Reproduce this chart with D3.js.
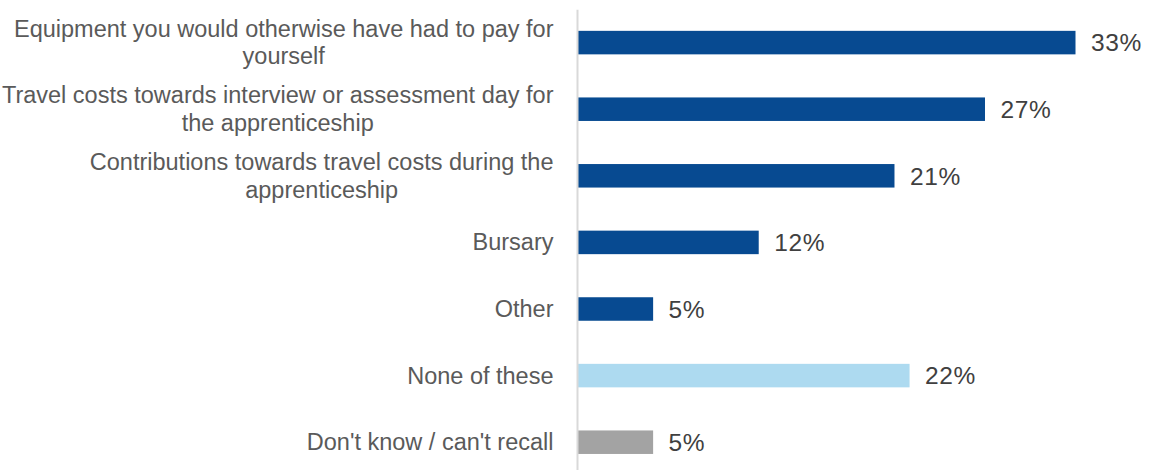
<!DOCTYPE html>
<html>
<head>
<meta charset="utf-8">
<script src="https://cdn.jsdelivr.net/npm/d3@7"></script>
<style>
  html, body { margin: 0; padding: 0; background: #ffffff; }
  svg { display: block; }
  text { font-family: "Liberation Sans", Arial, sans-serif; }
</style>
</head>
<body>
<div id="chart"></div>
<script>
// Support received during the apprenticeship (% of respondents)
const categories = [
  "Equipment you would otherwise have had to pay for\nyourself",
  "Travel costs towards interview or assessment day for\nthe apprenticeship",
  "Contributions towards travel costs during the\napprenticeship",
  "Bursary",
  "Other",
  "None of these",
  "Don't know / can't recall"
];
const values = [33, 27, 21, 12, 5, 22, 5];
const barGroups = ["support", "support", "support", "support", "support", "none", "unknown"];
const groupColors = { support: "#074A91", none: "#ADDAF0", unknown: "#A3A3A3" };

const width = 1149, height = 470;
const axisX = 577.7;

const svg = d3.select("#chart").append("svg")
  .attr("width", width)
  .attr("height", height);

const rows = categories.map((c, i) => ({ label: c, value: values[i], group: barGroups[i] }));

const x = d3.scaleLinear()
  .domain([0, 33])
  .range([axisX, 1075.5]);

const y = d3.scaleBand()
  .domain(rows.map(d => d.label))
  .range([9.3, 475.5])
  .paddingInner(0.647)
  .paddingOuter(0.3235);

// Bars
svg.append("g")
  .selectAll("rect")
  .data(rows)
  .join("rect")
  .attr("x", x(0))
  .attr("y", d => y(d.label))
  .attr("width", d => x(d.value) - x(0))
  .attr("height", y.bandwidth())
  .attr("fill", d => groupColors[d.group]);

// Category axis: a plain vertical rule, no ticks
const axis = svg.append("g")
  .attr("transform", `translate(${axisX - 0.7},0)`)
  .call(d3.axisLeft(y).tickSize(0).tickSizeOuter(0).tickFormat(""));
axis.select(".domain")
  .attr("stroke", "#D9D9D9")
  .attr("stroke-width", 2);
axis.selectAll(".tick").remove();

// Category labels: lines centred on each other, block right-aligned
const labelRight = 553.5;
const lineGap = 27.5;
const labelG = svg.append("g")
  .attr("font-size", 23.5)
  .attr("fill", "#5A5A5A");

rows.forEach(d => {
  const lines = d.label.split("\n");
  const cy = y(d.label) + y.bandwidth() / 2;
  const t = labelG.append("text").attr("text-anchor", "middle");
  const spans = lines.map((ln, k) => t.append("tspan")
    .attr("y", cy - (lines.length - 1) * lineGap / 2 + k * lineGap + 8)
    .text(ln));
  const maxW = d3.max(spans, s => s.node().getComputedTextLength());
  spans.forEach(s => s.attr("x", labelRight - maxW / 2));
});

// Value labels
svg.append("g")
  .attr("font-size", 24.5)
  .attr("letter-spacing", 0.6)
  .attr("fill", "#404040")
  .selectAll("text")
  .data(rows)
  .join("text")
  .attr("x", d => x(d.value) + 15.5)
  .attr("y", d => y(d.label) + y.bandwidth() / 2 + 8.8)
  .text(d => d.value + "%");
</script>
</body>
</html>
